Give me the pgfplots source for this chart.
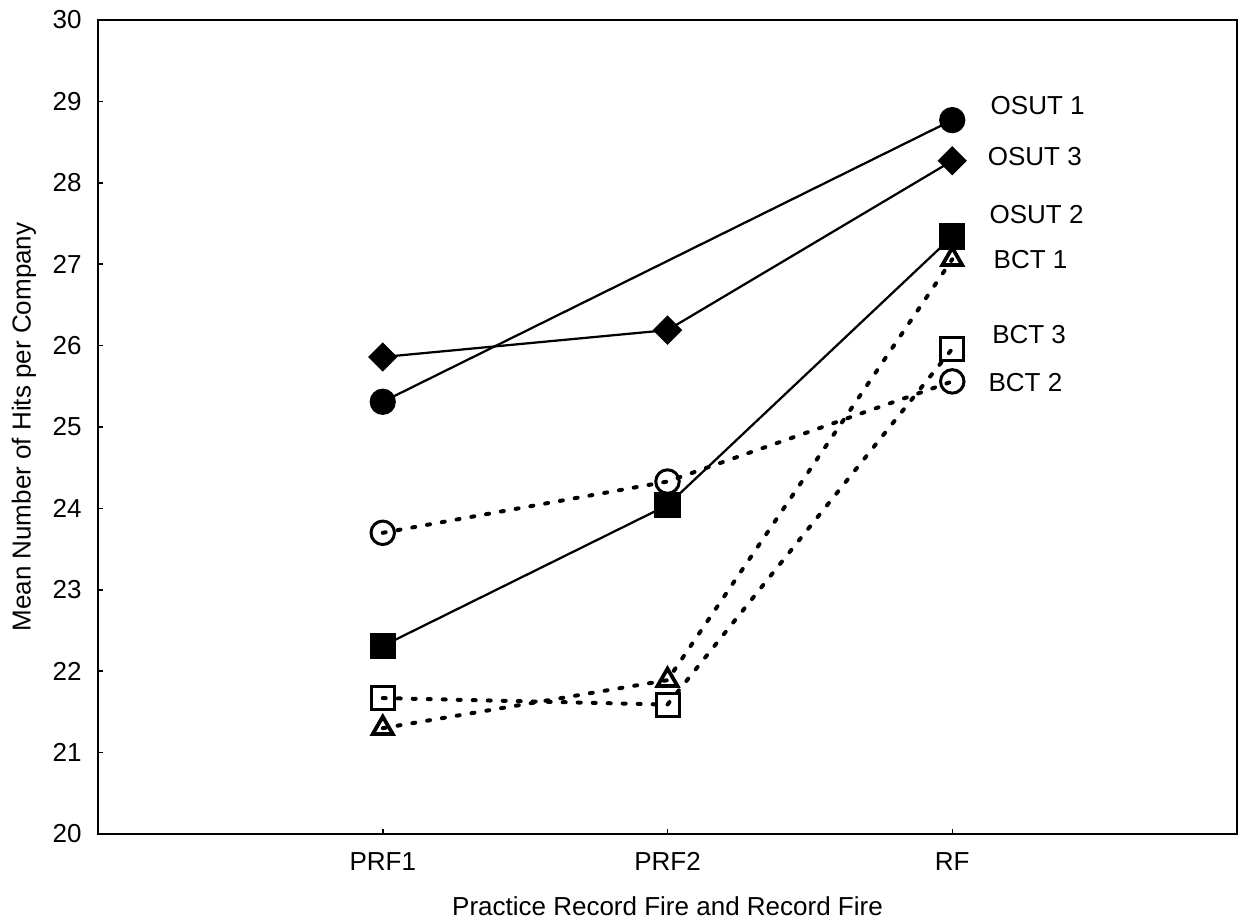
\documentclass[border=0pt]{standalone}
\usepackage{fontspec}
\setmainfont{Liberation Sans}
\usepackage{pgfplots}
\pgfplotsset{compat=1.18}
\usetikzlibrary{calc}

\begin{document}
\begin{tikzpicture}[every node/.append style={font=\fontsize{10.4}{12.5}\selectfont}]
\begin{axis}[
  scale only axis,
  width=455.6pt, height=325.6pt,
  xmin=0, xmax=4, ymin=20, ymax=30,
  xtick={1,2,3},
  xticklabels={PRF1,PRF2,RF},
  ytick={20,21,...,30},
  tick align=inside,
  xtick pos=bottom, ytick pos=left,
  major tick length=2pt,
  axis line style={line width=0.8pt},
  every tick/.style={black, line width=0.6pt},
  /pgf/number format/assume math mode=true,
  yticklabel style={xshift=-3pt},
  xticklabel style={yshift=-4pt},
  xlabel={Practice Record Fire and Record Fire},
  ylabel={Mean Number of Hits per Company},
  every axis x label/.style={at={(axis description cs:0.5,-0.0885)}, anchor=center},
  every axis y label/.style={at={(axis description cs:-0.065,0.5)}, rotate=90, anchor=center},
  clip=false,
  solid line/.style={black, line width=0.9pt},
  dot line/.style={black, line width=1.6pt, line cap=round, dash pattern=on 1.2pt off 4.8pt},
]
% OSUT 1 (no PRF2 value)
\addplot[solid line, mark=*, mark size=4.8pt, mark options={solid, fill=black}]
  coordinates {(1,25.31) (3,28.77)};
% OSUT 3
\addplot[solid line, mark=square*, mark size=3.7pt, mark options={solid, fill=black, rotate=45}]
  coordinates {(1,25.86) (2,26.19) (3,28.27)};
% OSUT 2
\addplot[solid line, mark=square*, mark size=4.8pt, mark options={solid, fill=black}]
  coordinates {(1,22.31) (2,24.04) (3,27.34)};
% BCT 1
\addplot[dot line, mark=triangle, mark size=4.6pt, mark options={solid, line width=1.5pt, line cap=butt, line join=miter}]
  coordinates {(1,21.30) (2,21.89) (3,27.06)};
% BCT 3
\addplot[dot line, mark=square, mark size=4.6pt, mark options={solid, line width=1.2pt, line cap=butt}]
  coordinates {(1,21.67) (2,21.59) (3,25.96)};
% BCT 2
\addplot[dot line, mark=o, mark size=4.7pt, mark options={solid, line width=1.2pt}]
  coordinates {(1,23.70) (2,24.33) (3,25.56)};

\node at (axis cs:3.30,28.95) {OSUT 1};
\node at (axis cs:3.29,28.32) {OSUT 3};
\node at (axis cs:3.296,27.61) {OSUT 2};
\node at (axis cs:3.275,27.06) {BCT 1};
\node at (axis cs:3.27,26.14) {BCT 3};
\node at (axis cs:3.257,25.55) {BCT 2};
\end{axis}
\pgfresetboundingbox
\path ($(current axis.south west)+(-39.2pt,-35.6pt)$) rectangle ($(current axis.north east)+(0.4pt,8pt)$);
\end{tikzpicture}
\end{document}
